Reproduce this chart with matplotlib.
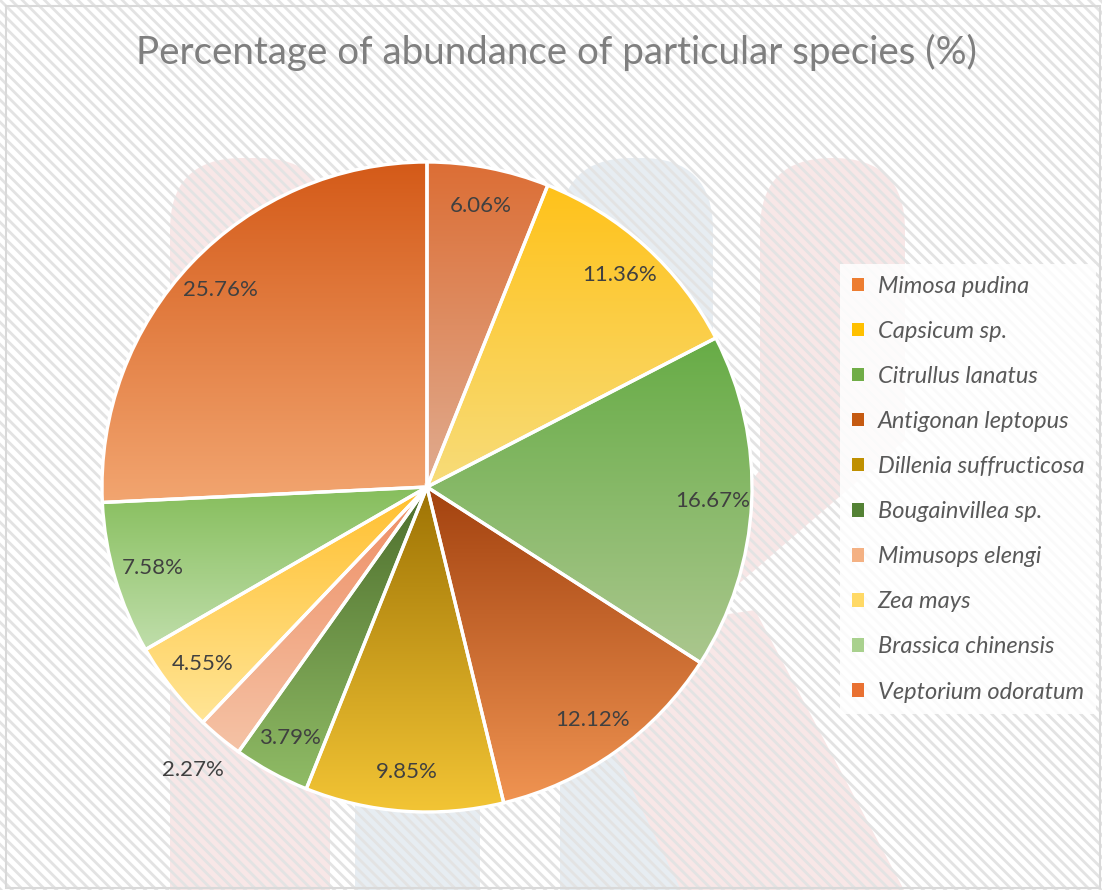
import numpy as np
import matplotlib.pyplot as plt
from matplotlib.patches import Rectangle, Patch, FancyBboxPatch, Polygon
from matplotlib.colors import LinearSegmentedColormap

# data
species = ['Mimosa pudina', 'Capsicum sp.', 'Citrullus lanatus', 'Antigonan leptopus',
           'Dillenia suffructicosa', 'Bougainvillea sp.', 'Mimusops elengi', 'Zea mays',
           'Brassica chinensis', 'Veptorium odoratum']
shares = [6.06, 11.36, 16.67, 12.12, 9.85, 3.79, 2.27, 4.55, 7.58, 25.76]

# legend swatch colour, gradient top colour, gradient bottom colour
swatch = ['#ED7D31', '#FFC000', '#70AD47', '#C55A11', '#BF9000',
          '#548235', '#F4B183', '#FFD966', '#A9D18E', '#E97132']
top_col = ['#DC6E35', '#FFC21A', '#67AC46', '#A3420F', '#9E7304',
           '#4D6E2C', '#EE8D63', '#FFBF2E', '#86BE5C', '#D45A18']
bot_col = ['#E0AC90', '#F7DC7A', '#ABC78E', '#F09452', '#F3C535',
           '#90BC66', '#F5C3A6', '#FFE596', '#C0DEAB', '#F2A570']

W, H = 1102, 890
cx, cy, R = 427, H - 487, 325

plt.rcParams['font.family'] = ['Lato', 'DejaVu Sans']
plt.rcParams['hatch.linewidth'] = 2.0
plt.rcParams['hatch.color'] = '#E3E3E3'

fig = plt.figure(figsize=(W / 100, H / 100), dpi=100)
ax = fig.add_axes([0, 0, 1, 1])

# plain background, pale watermark, then the diagonal hatch on top
ax.add_patch(Rectangle((0, 0), W, H, facecolor='white', linewidth=0, zorder=0))

pink = '#F8E7E7'
blue = '#E7EDF2'
marks = [
    (170, 158, 160, 900, pink),
    (560, 158, 153, 900, blue),
    (355, 640, 125, 400, blue),
    (760, 158, 145, 320, pink),
]
for x, y, w, h, c in marks:
    ax.add_patch(FancyBboxPatch((x, H - y - h), w, h,
                                boxstyle='round,pad=0,rounding_size=72',
                                facecolor=c, edgecolor='none', zorder=0.3))
upper_arm = [(760, 400), (905, 400), (905, 440), (720, 600), (690, 560), (760, 470)]
lower_arm = [(755, 610), (904, 890), (681, 890), (560, 640)]
for poly in (upper_arm, lower_arm):
    ax.add_patch(Polygon([(px, H - py) for px, py in poly], closed=True,
                         facecolor=pink, edgecolor='none', zorder=0.4))

ax.add_patch(Rectangle((0, 0), W, H, facecolor='none', edgecolor='#E3E3E3',
                       hatch='\\\\\\', linewidth=0, zorder=0.6))
ax.add_patch(Rectangle((6, 2), W - 8, H - 8, facecolor='none',
                       edgecolor='#D9D9D9', linewidth=1.5, zorder=0.7))

wedges, _ = ax.pie(shares, center=(cx, cy), radius=R, startangle=90, counterclock=False,
                   wedgeprops=dict(facecolor='none', edgecolor='white', linewidth=2.4))

for w, c0, c1 in zip(wedges, bot_col, top_col):
    w.set_facecolor('none')
    w.set_zorder(3)
    v = w.get_path().vertices
    x0, x1 = v[:, 0].min(), v[:, 0].max()
    y0, y1 = v[:, 1].min(), v[:, 1].max()
    grad = np.linspace(0, 1, 256).reshape(-1, 1)
    cmap = LinearSegmentedColormap.from_list('g', [c0, c1])
    im = ax.imshow(grad, extent=(x0, x1, y0, y1), origin='lower', cmap=cmap,
                   aspect='auto', zorder=2, interpolation='bilinear')
    im.set_clip_path(w)

# percentage labels
for w, v in zip(wedges, shares):
    ang = np.deg2rad((w.theta1 + w.theta2) / 2)
    d = 1.13 if v < 3 else 0.88
    ax.text(cx + d * R * np.cos(ang), cy + d * R * np.sin(ang), f'{v:.2f}%',
            ha='center', va='center', fontsize=16, color='#404040', zorder=5)

ax.text(W / 2 + 5, H - 52, 'Percentage of abundance of particular species (%)',
        ha='center', va='center', fontsize=27.7, color='#7F7F7F', zorder=5)

handles = [Patch(facecolor=c, edgecolor='none') for c in swatch]
leg = ax.legend(handles, species, loc='upper left', bbox_to_anchor=(840, H - 264),
                bbox_transform=ax.transData, frameon=True, fancybox=False,
                prop=dict(family='Lato', style='italic', size=17), labelcolor='#595959',
                handlelength=0.5, handleheight=0.5, handletextpad=0.6, labelspacing=1.02,
                borderpad=0.5, borderaxespad=0)
leg.get_frame().set_facecolor('white')
leg.get_frame().set_alpha(0.85)
leg.get_frame().set_edgecolor('none')
leg.set_zorder(6)

ax.set_xlim(0, W)
ax.set_ylim(0, H)
ax.set_aspect('equal')
ax.axis('off')

fig.savefig('out.png', dpi=100)
